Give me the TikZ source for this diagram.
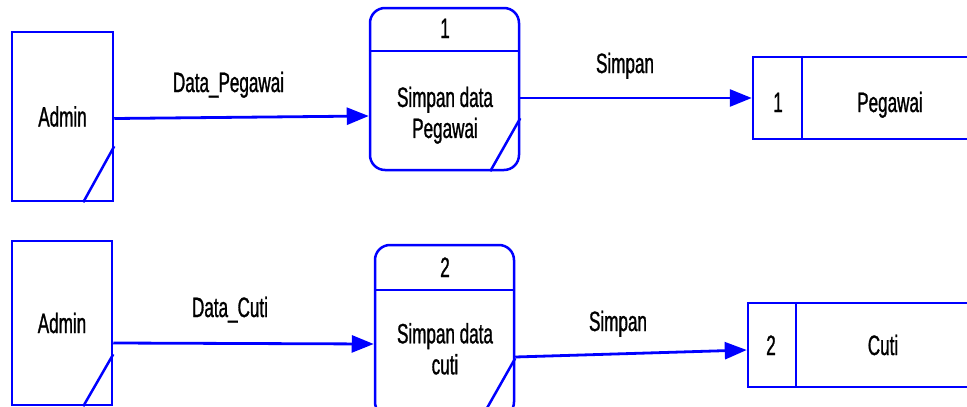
\documentclass[tikz,border=0pt]{standalone}
\usepackage{fontspec}
\setmainfont{Liberation Sans}[FakeStretch=0.61,FakeBold=1]
\usetikzlibrary{arrows.meta}
\definecolor{dfdblue}{RGB}{0,0,255}

\begin{document}
\begin{tikzpicture}[x=1pt,y=-1pt,
  every node/.style={font=\fontsize{28}{31}\selectfont, text=black, inner sep=0pt},
  line/.style={draw=dfdblue, line width=2.5pt},
  entity/.style={line, rectangle},
  proc/.style={line, rectangle, rounded corners=15pt},
  store/.style={line, rectangle},
  flow/.style={draw=dfdblue, line width=2.8pt, -{Triangle[length=22pt,width=17pt]}},
  lbl/.style={anchor=base},
]
\useasboundingbox (0,0) rectangle (967,407);

% ---------- upper flow: employee data ----------
\node[entity, minimum width=101pt, minimum height=169pt] (adm1) at (62.5,116.5) {Admin};
\draw[line] ([yshift=56pt]adm1.south east) -- ([xshift=-31pt]adm1.south east);

\node[proc, minimum width=149pt, minimum height=162pt] (p1) at (444.5,89) {};
\draw[line] ([yshift=-44pt]p1.north west) -- ([yshift=-44pt]p1.north east);
\draw[line] ([yshift=53pt]p1.south east) -- ([xshift=-30pt]p1.south east);
\node[lbl] (p1id) at (445,38) {1};
\node[align=center] (p1txt) at (445,115.2) {Simpan data\\Pegawai};

\node[store, minimum width=247pt, minimum height=82pt] (s1) at (876.5,98) {};
\draw[line] ([xshift=50pt]s1.north west) -- ([xshift=50pt]s1.south west);
\node[lbl] (s1id) at (778,112) {1};
\node[lbl] (s1txt) at (890,112) {Pegawai};

\draw[flow] ([yshift=-2pt]adm1.east) -- ([yshift=-27pt]p1.west);
\node[lbl] (f1lbl) at (228.5,92) {Data\_Pegawai};
\draw[flow] (p1.east |- s1.west) -- (s1.west);
\node[lbl] (f2lbl) at (625,73) {Simpan};

% ---------- lower flow: leave data ----------
\node[entity, minimum width=100pt, minimum height=164pt] (adm2) at (62,323) {Admin};
\draw[line] ([yshift=52pt]adm2.south east) -- ([xshift=-30pt]adm2.south east);

\node[proc, minimum width=139pt, minimum height=172pt] (p2) at (444.5,331) {};
\draw[line] ([yshift=-46pt]p2.north west) -- ([yshift=-46pt]p2.north east);
\draw[line] ([yshift=60pt]p2.south east) -- ([xshift=-34pt]p2.south east);
\node[lbl] (p2id) at (445,277) {2};
\node[align=center] (p2txt) at (445,348.8) {Simpan data\\cuti};

\node[store, minimum width=252pt, minimum height=84pt] (s2) at (874,345) {};
\draw[line] ([xshift=49pt]s2.north west) -- ([xshift=49pt]s2.south west);
\node[lbl] (s2id) at (771,355) {2};
\node[lbl] (s2txt) at (883,355) {Cuti};

\draw[flow] ([yshift=-20pt]adm2.east) -- ([yshift=-13pt]p2.west);
\node[lbl] (f3lbl) at (230,317) {Data\_Cuti};
\draw[flow] ([yshift=-26pt]p2.east) -- ([yshift=-5pt]s2.west);
\node[lbl] (f4lbl) at (618,331) {Simpan};
\end{tikzpicture}
\end{document}
